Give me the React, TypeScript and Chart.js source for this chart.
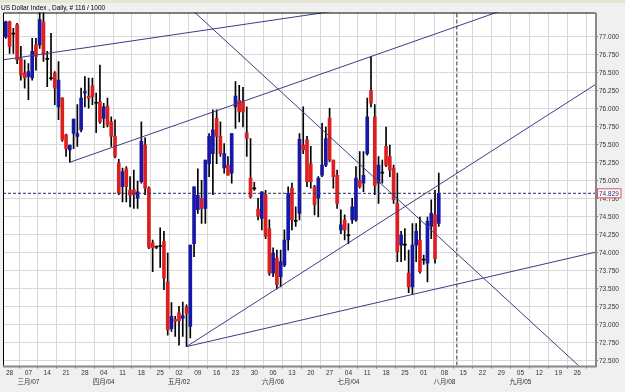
import React, { useEffect, useRef } from "react";
import { Chart, registerables } from "chart.js";

Chart.register(...registerables);

// ---- data ----
const opens = [77.00,77.21,77.05,77.17,76.70,76.50,76.45,76.43,76.89,76.89,77.21,76.70,76.43,76.50,76.03,76.15,75.64,75.43,75.66,75.62,75.71,76.22,76.18,76.32,76.09,76.10,75.87,76.04,75.82,75.62,75.25,74.92,75.17,74.87,74.88,74.76,74.99,75.50,74.90,74.14,74.08,74.10,74.16,73.60,72.95,73.08,73.17,73.09,73.25,72.98,74.13,74.60,74.76,74.62,75.24,75.38,75.87,75.62,75.18,75.22,75.11,76.03,76.12,76.10,75.67,75.04,74.90,74.61,74.48,74.81,74.34,73.72,73.93,73.67,73.83,74.18,74.90,74.45,74.55,75.50,75.57,75.24,74.92,74.76,75.08,75.22,75.87,75.29,75.08,74.32,74.46,74.24,74.46,74.46,75.01,74.97,75.38,76.26,75.89,74.97,75.11,75.48,75.34,75.18,74.69,74.11,74.11,73.72,73.53,74.11,74.18,73.91,73.86,74.37,74.53,74.41];
const highs = [77.22,77.22,77.12,77.19,76.87,76.68,76.63,76.98,76.98,77.40,77.40,76.80,77.05,76.52,76.66,76.16,75.65,75.50,75.86,76.06,76.29,76.45,76.43,76.43,76.22,76.61,76.08,76.15,75.89,75.85,75.30,75.18,75.20,75.06,75.15,75.00,75.82,75.60,74.92,74.18,74.10,74.35,74.30,74.00,73.31,73.12,73.26,73.32,73.28,74.11,74.92,75.17,75.01,75.29,75.66,75.99,75.99,75.82,75.52,75.34,75.66,76.38,76.33,76.30,76.03,75.59,74.98,74.76,74.85,74.87,74.46,74.07,74.04,74.04,74.32,74.92,74.97,74.64,75.66,76.03,75.62,75.48,74.94,75.06,75.80,75.75,76.01,75.29,75.15,74.60,74.53,74.41,74.76,75.20,75.41,75.41,76.15,76.73,76.06,75.34,75.29,75.75,75.50,75.22,75.11,74.30,74.34,74.04,74.41,74.41,74.50,73.97,74.50,74.74,74.87,75.11];
const lows = [76.98,76.77,76.77,76.63,76.40,76.29,76.13,76.40,76.54,76.84,76.66,76.31,76.40,76.06,75.85,75.55,75.34,75.26,75.45,75.48,75.68,76.03,76.01,76.06,75.67,75.80,75.74,75.75,75.48,75.32,74.81,74.71,74.71,74.64,74.62,74.62,74.97,74.81,74.06,73.74,74.06,73.80,73.49,72.86,72.91,72.84,72.72,72.84,72.70,72.82,73.95,74.55,74.41,74.41,75.06,74.81,75.24,75.34,75.11,75.08,74.97,75.73,75.82,75.75,75.34,74.76,74.87,74.46,74.32,74.20,73.69,73.67,73.50,73.53,73.81,74.04,74.32,74.37,74.46,75.38,74.92,74.90,74.53,74.50,75.06,75.20,75.27,74.90,74.62,74.27,74.18,74.13,74.41,74.44,74.90,74.85,75.36,76.03,74.81,74.69,74.97,75.20,75.06,74.69,73.88,73.88,73.90,73.45,73.42,73.88,73.72,73.84,73.60,74.20,73.86,74.37];
const closes = [77.21,76.87,77.04,76.68,76.47,76.43,76.52,76.80,76.73,77.24,76.75,76.69,76.42,76.29,76.40,75.57,75.45,75.50,75.86,75.66,76.15,76.24,76.15,76.17,76.08,75.82,76.03,75.78,75.62,75.34,74.83,75.13,74.92,74.80,74.81,74.85,75.55,74.90,74.08,74.07,74.09,74.09,73.65,72.93,73.12,73.05,73.06,73.13,73.16,74.11,74.92,74.80,74.62,75.29,75.62,75.71,75.62,75.38,75.38,75.08,75.66,76.18,75.96,75.96,75.59,74.78,74.89,74.51,74.85,74.23,73.72,74.00,73.56,73.88,74.18,74.83,74.46,74.44,75.58,75.43,74.99,74.99,74.67,75.04,75.22,75.59,75.29,75.06,74.69,74.39,74.32,74.25,74.64,75.04,74.92,75.08,75.89,76.08,74.94,75.22,75.12,75.22,75.15,74.74,74.02,74.25,74.12,73.53,74.11,74.30,73.74,73.90,74.44,74.55,73.92,74.829];

const xTickIdx = [2,7,12,17,22,27,32,37,42,47,52,57,62,67,72,77,82,87,92,97,102,107,112,117.5,122.5,127.6,132.6,137.7,142.7,147.8,152.8];
const xTickDays = ["28","07","14","21","28","04","11","18","25","02","09","16","23","30","06","13","20","27","04","11","18","25","01","08","15","22","29","05","12","19","26"];
const xTickMonths = ["","三月/07","","","","四月/04","","","","五月/02","","","","","六月/06","","","","七月/04","","","","","八月/08","","","","九月/05","","",""];
const yTicks = [72.5,72.75,73,73.25,73.5,73.75,74,74.25,74.5,74.75,75,75.25,75.5,75.75,76,76.25,76.5,76.75,77];

const trendA = [[0, 76.68], [100, 77.45]];
const trendB = [[40, 77.88], [160, 72.106]];
const trendC = [[18, 75.26], [140, 77.5]];
const trendD = [[49, 72.7], [160, 76.42]];
const trendE = [[49, 72.7], [160, 74.04]];

const cursorIdx = 120.8;
const xMin = 0.25, xMax = 157.5;
const yMin = 72.4375, yMax = 77.34;
const titleText = `US Dollar Index , Daily, # ${closes.length} / 1000`;

const FONT = "'Liberation Sans', Arial, 'Noto Sans CJK SC', sans-serif";

export default function App() {
  const ref = useRef<HTMLCanvasElement>(null);
  useEffect(() => {
    document.body.style.margin = "0";
    const canvas = ref.current!;
    const idx = opens.map((_, i) => i + 1);
    const last = closes[closes.length - 1];
    const bodyColors = opens.map((o, i) => {
      const c = closes[i];
      if (Math.abs(c - o) < 0.015) return "#000000";
      return c > o ? "#1818a8" : "#dc2020";
    });
    const lineDs = (pts: number[][]) => ({
      type: "line" as const,
      data: pts.map(p => ({ x: p[0], y: p[1] })),
      borderColor: "#3c3c86",
      borderWidth: 1,
      pointRadius: 0,
      fill: false,
      order: 1,
    });
    const framePlugin = {
      id: "frame",
      beforeDraw(chart: any) {
        const { ctx, chartArea: a, width, height } = chart;
        ctx.save();
        ctx.fillStyle = "#f0f0f0";
        ctx.fillRect(0, 0, width, height);
        ctx.fillStyle = "#e8e5d6";
        ctx.fillRect(0, 0, width, 3);
        ctx.fillStyle = "#ffffff";
        ctx.fillRect(a.left, a.top, a.right - a.left, a.bottom - a.top);
        ctx.fillStyle = "#000";
        ctx.font = `6.5px ${FONT}`;
        ctx.textBaseline = "alphabetic";
        ctx.textAlign = "left";
        ctx.fillText(titleText, 1, 10);
        ctx.restore();
      },
      afterDraw(chart: any) {
        const { ctx, chartArea: a, scales } = chart;
        ctx.save();
        ctx.strokeStyle = "#888";
        ctx.lineWidth = 2;
        ctx.beginPath();
        ctx.moveTo(a.right + 1, a.top);
        ctx.lineTo(a.right + 1, a.bottom + 1);
        ctx.lineTo(a.left, a.bottom + 1);
        ctx.stroke();
        ctx.strokeStyle = "#000";
        ctx.lineWidth = 1;
        ctx.beginPath();
        ctx.moveTo(a.left + 0.5, a.bottom);
        ctx.lineTo(a.left + 0.5, a.top + 0.5);
        ctx.lineTo(a.right, a.top + 0.5);
        ctx.stroke();
        const py = scales.y.getPixelForValue(last);
        ctx.fillStyle = "#fff";
        ctx.fillRect(597.5, py - 4.5, 23.5, 9);
        ctx.strokeStyle = "#e05050";
        ctx.strokeRect(597.5, py - 4.5, 23.5, 9);
        ctx.fillStyle = "#2a2a88";
        ctx.font = `6.5px ${FONT}`;
        ctx.textBaseline = "middle";
        ctx.fillText(last.toFixed(3), 599, py + 0.5);
        ctx.restore();
      },
    };
    const chart = new Chart(canvas, {
      type: "bar",
      data: {
        datasets: [
          {
            type: "bar",
            data: idx.map((x, i) => ({ x, y: [lows[i], highs[i]] })) as any,
            backgroundColor: "#000000",
            barThickness: 1,
            grouped: false,
            order: 3,
          },
          {
            type: "bar",
            data: idx.map((x, i) => ({ x, y: [opens[i], closes[i]] })) as any,
            backgroundColor: bodyColors,
            barThickness: 3,
            minBarLength: 1,
            grouped: false,
            order: 2,
          },
          lineDs(trendA),
          lineDs(trendB),
          lineDs(trendC),
          lineDs(trendD),
          lineDs(trendE),
          {
            type: "line",
            data: [{ x: xMin, y: last }, { x: xMax, y: last }],
            borderColor: "#2a2a66",
            borderWidth: 1,
            borderDash: [3, 2],
            pointRadius: 0,
            order: 1,
          },
          {
            type: "line",
            data: [{ x: cursorIdx, y: yMin }, { x: cursorIdx, y: yMax }],
            borderColor: "#333333",
            borderWidth: 1,
            borderDash: [4, 2],
            pointRadius: 0,
            order: 1,
          },
        ] as any,
      },
      options: {
        animation: false,
        responsive: false,
        events: [],
        layout: { padding: { left: 3, top: 12.5, right: 0, bottom: 0 } },
        plugins: { legend: { display: false }, tooltip: { enabled: false } },
        scales: {
          x: {
            type: "linear",
            min: xMin,
            max: xMax,
            offset: false,
            border: { display: false },
            grid: { color: "#d8d8d8", tickColor: "#777", tickLength: 3, lineWidth: 1 },
            afterBuildTicks: (s: any) => { s.ticks = xTickIdx.map(v => ({ value: v })); },
            afterFit: (s: any) => { s.height = 26.5; },
            ticks: {
              autoSkip: false,
              maxRotation: 0,
              padding: 0,
              color: "#333",
              font: { family: FONT, size: 6.5, lineHeight: 1.45 },
              callback: (_v: any, i: number) => xTickMonths[i] ? [xTickDays[i], xTickMonths[i]] : xTickDays[i],
            },
          },
          y: {
            type: "linear",
            position: "right",
            min: yMin,
            max: yMax,
            border: { display: false },
            grid: { color: "#d8d8d8", tickColor: "#777", tickLength: 3, lineWidth: 1 },
            afterBuildTicks: (s: any) => { s.ticks = yTicks.map(v => ({ value: v })); },
            afterFit: (s: any) => { s.width = 30; },
            ticks: {
              padding: 1,
              color: "#333",
              font: { family: FONT, size: 6.5 },
              callback: (v: any) => Number(v).toFixed(3),
            },
          },
        },
      },
      plugins: [framePlugin],
    });
    return () => chart.destroy();
  }, []);
  return (
    <div style={{ width: 625, height: 392 }}>
      <canvas ref={ref} width={625} height={392} style={{ display: "block" }} />
    </div>
  );
}
